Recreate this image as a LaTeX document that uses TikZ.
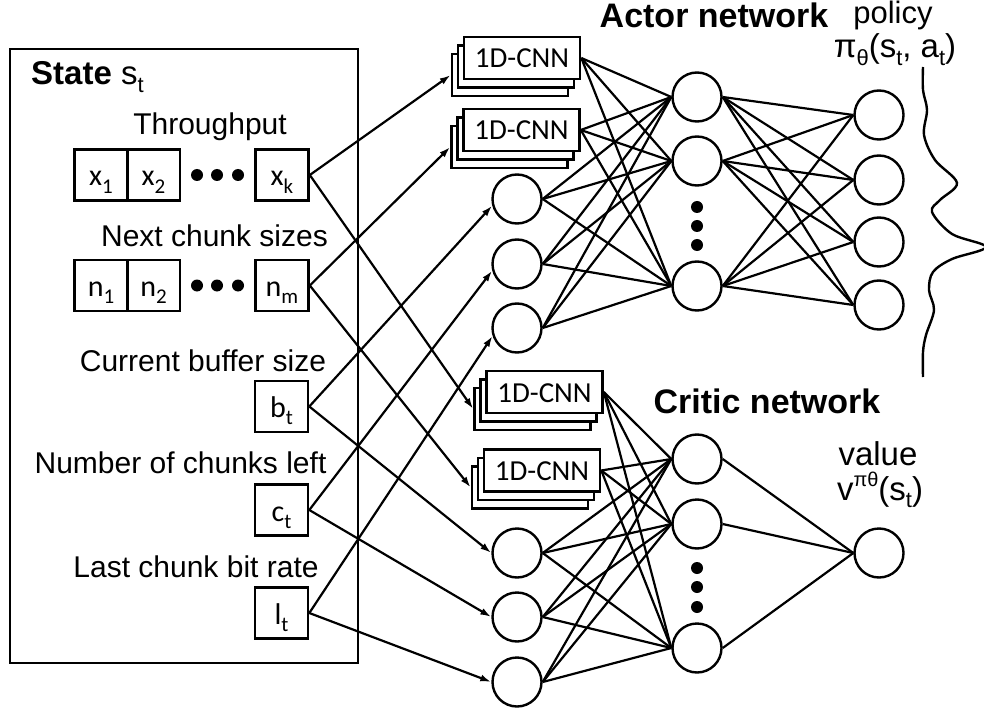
\documentclass[tikz,border=0pt]{standalone}
\usepackage{fontspec}
\setmainfont{Liberation Sans}
\newfontfamily\calfont{Carlito}
\usetikzlibrary{arrows.meta}
\newcommand\subs[2][19]{\raisebox{-0.24em}{\fontsize{#1}{#1}\selectfont #2}}
\newcommand\sups[2][20]{\raisebox{0.42em}{\fontsize{#1}{#1}\selectfont #2}}
\tikzset{
  cell/.style={draw, line width=2.6pt, minimum width=53pt, minimum height=51pt, inner sep=0pt,
    text height=22pt, text depth=0pt, font=\calfont\fontsize{30}{30}\selectfont},
  neuron/.style={circle, draw, line width=2.4pt, minimum size=49pt, inner sep=0pt},
  cnnbox/.style={draw, fill=white, line width=2.6pt, minimum width=116pt, minimum height=42pt, inner sep=0pt,
    text height=20pt, text depth=0pt, font=\calfont\fontsize{29}{29}\selectfont},
  conn/.style={line width=2.2pt},
  arr/.style={conn, -{Latex[length=11pt,width=7pt]}},
  dotn/.style={circle, fill=black, minimum size=12pt, inner sep=0pt},
  lab/.style={inner sep=0pt, anchor=base, font=\fontsize{30}{30}\selectfont},
  biglab/.style={inner sep=0pt, anchor=base, font=\fontsize{33}{33}\selectfont},
}
\begin{document}
\begin{tikzpicture}[x=1pt,y=-1pt]
\useasboundingbox (0,0) rectangle (984,711);
% state box
\node[draw, line width=2.6pt, minimum width=348pt, minimum height=614pt, inner sep=0pt] (statebox) at (184,356) {};
\node[biglab, anchor=base west] (statelab) at (31,85) {\bfseries State\mdseries\ s\subs[22]{t}};
\node[lab] (thr) at (210,135) {Throughput};
\node[lab] (ncs) at (214.5,247) {Next chunk sizes};
\node[lab] (cbs) at (203,371) {Current buffer size};
\node[lab] (ncl) at (180.5,473) {Number of chunks left};
\node[lab] (lcb) at (196,577) {Last chunk bit rate};
% cells
\node[cell] (x1) at (101,175) {x\subs[21]{1}};
\node[cell] (x2) at (153.5,175) {x\subs[21]{2}};
\node[cell] (xk) at (282,175) {x\subs[21]{k}};
\node[cell] (n1) at (101,285.5) {n\subs[21]{1}};
\node[cell] (n2) at (153.5,285.5) {n\subs[21]{2}};
\node[cell] (nm) at (282,285.5) {n\subs[21]{m}};
\node[cell] (bt) at (281.5,406.5) {b\subs[21]{t}};
\node[cell] (ct) at (281.5,510) {c\subs[21]{t}};
\node[cell] (lt) at (281.5,613) {l\subs[21]{t}};
\foreach \n/\x in {1/197,2/217,3/238}{
  \node[dotn] (dx\n) at (\x,175) {};
  \node[dotn] (dn\n) at (\x,285.5) {};
}
% CNN stacks
\foreach \nm/\x/\y in {c1/522/58, c2/521.5/130, c3/544.5/392, c4/542/470.5}{
  \node[cnnbox] (\nm c) at (\x-12,\y+17) {};
  \node[cnnbox] (\nm b) at (\x-6,\y+8.5) {};
  \node[cnnbox] (\nm a) at (\x,\y) {1D-CNN};
}
% actor neurons
\node[neuron] (a1) at (517,199) {};
\node[neuron] (a2) at (517,264) {};
\node[neuron] (a3) at (517,328) {};
\node[neuron] (h1) at (697,97) {};
\node[neuron] (h2) at (697,161) {};
\node[neuron] (h4) at (697,286) {};
\node[neuron] (o1) at (879,115) {};
\node[neuron] (o2) at (879,180) {};
\node[neuron] (o3) at (879,242) {};
\node[neuron] (o4) at (879,305) {};
\foreach \n/\y in {1/207,2/226,3/245}{\node[dotn] (hd\n) at (697,\y) {};}
% critic neurons
\node[neuron] (b1) at (517,553) {};
\node[neuron] (b2) at (517,617) {};
\node[neuron] (b3) at (517,682) {};
\node[neuron] (g1) at (697,459) {};
\node[neuron] (g2) at (697,524) {};
\node[neuron] (g4) at (697,648) {};
\node[neuron] (val) at (879,553) {};
\foreach \n/\y in {1/568,2/587,3/607}{\node[dotn] (gd\n) at (697,\y) {};}
% labels
\node[biglab, font=\fontsize{34}{34}\selectfont\bfseries] (actlab) at (714,28) {Actor network};
\node[biglab, font=\fontsize{34}{34}\selectfont\bfseries] (critlab) at (767,413) {Critic network};
\node[biglab, font=\fontsize{31}{31}\selectfont] (pol) at (893,24) {policy};
\node[biglab] (pif) at (895,58) {π\subs[22]{θ}(s\subs[22]{t}, a\subs[22]{t})};
\node[biglab] (vallab) at (878,465) {value};
\node[biglab] (vf) at (880,500) {v\sups{πθ}(s\subs[22]{t})};
% input arrows
\draw[arr] (xk.east) -- (c1c.west);
\draw[arr] (xk.east) -- (c3c.west);
\draw[arr] (nm.east) -- (c2c.west);
\draw[arr] (nm.east) -- (c4c.west);
\draw[arr] (bt.east) -- (a1.195);
\draw[arr] (bt.east) -- (b1.west);
\draw[arr] (ct.east) -- (a2.195);
\draw[arr] (ct.east) -- (b2.west);
\draw[arr] (lt.east) -- (a3.198);
\draw[arr] (lt.east) -- (b3.west);
% actor connections
\foreach \i in {c1a,c2a,a1,a2,a3}{\foreach \j in {h1,h2,h4}{\draw[conn] (\i.east) -- (\j.west);}}
\foreach \i in {h1,h2,h4}{\foreach \j in {o1,o2,o3,o4}{\draw[conn] (\i.east) -- (\j.west);}}
% critic connections
\foreach \i in {c3a,c4a,b1,b2,b3}{\foreach \j in {g1,g2,g4}{\draw[conn] (\i.east) -- (\j.west);}}
\foreach \i in {g1,g2,g4}{\draw[conn] (\i.east) -- (val.west);}
% policy distribution curve
\coordinate (ptop) at (923,67);
\coordinate (pbot) at (923,377);
\draw[conn, line width=2.4pt] plot[smooth, tension=0.55] coordinates {(923,67) (923,90) (927,110) (924,135) (935,160) (957,183) (940,200) (932,212) (952,234) (986,247) (952,259) (933,272) (929,290) (934,310) (926,335) (923,352) (923,377)};
\end{tikzpicture}
\end{document}
